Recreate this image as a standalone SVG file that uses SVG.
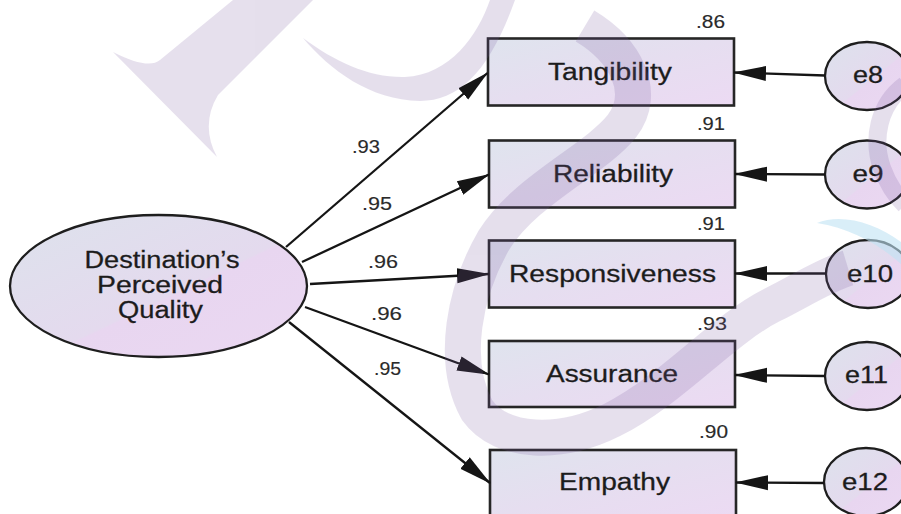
<svg xmlns="http://www.w3.org/2000/svg" width="901" height="514" viewBox="0 0 901 514">
  <defs>
    <linearGradient id="boxFill" x1="0" y1="0" x2="1" y2="1">
      <stop offset="0" stop-color="#dfe4ee"/>
      <stop offset="0.5" stop-color="#e6def0"/>
      <stop offset="1" stop-color="#ecdaf3"/>
    </linearGradient>
    <linearGradient id="ovalFill" x1="0" y1="0" x2="1" y2="1">
      <stop offset="0" stop-color="#dde2ec"/>
      <stop offset="0.55" stop-color="#e4daee"/>
      <stop offset="0.56" stop-color="#e8d6f0"/>
      <stop offset="1" stop-color="#ebd8f2"/>
    </linearGradient>
    <marker id="ah" markerUnits="userSpaceOnUse" markerWidth="34" markerHeight="18" refX="32" refY="9" orient="auto">
      <path d="M0,1.5 L33,9 L0,16.5 Z" fill="#151515"/>
    </marker>
    <style>
      .lbl { font-family: "Liberation Sans", Arial, sans-serif; font-size: 23.5px; fill: #1c1c1c; stroke: #1c1c1c; stroke-width: 0.28; text-anchor: middle; }
      .num { font-family: "Liberation Sans", Arial, sans-serif; font-size: 18px; fill: #2a2a2a; stroke: #2a2a2a; stroke-width: 0.15; }
      .box { fill: url(#boxFill); stroke: #262626; stroke-width: 2.6; }
      .oval { fill: url(#ovalFill); stroke: #1e1e1e; stroke-width: 2.3; }
      .edge { fill: none; stroke: #151515; stroke-width: 2.3; marker-end: url(#ah); }
    </style>
  </defs>

  <rect width="901" height="514" fill="#ffffff"/>

  <!-- latent factor -->
  <g id="factor">
    <ellipse class="oval" cx="158.5" cy="286" rx="148.5" ry="71"/>
    <text class="lbl" x="162" y="268" textLength="155" lengthAdjust="spacingAndGlyphs">Destination’s</text>
    <text class="lbl" x="160" y="293" textLength="126" lengthAdjust="spacingAndGlyphs">Perceived</text>
    <text class="lbl" x="160.5" y="318" textLength="85" lengthAdjust="spacingAndGlyphs">Quality</text>
  </g>

  <!-- observed indicators -->
  <g id="tangibility">
    <rect class="box" x="488" y="38.5" width="246" height="67"/>
    <text class="lbl" x="610" y="80" textLength="124" lengthAdjust="spacingAndGlyphs">Tangibility</text>
    <text class="num" x="725" y="28" text-anchor="end" textLength="29" lengthAdjust="spacingAndGlyphs">.86</text>
  </g>
  <g id="reliability">
    <rect class="box" x="489" y="140.5" width="246" height="67"/>
    <text class="lbl" x="613" y="182" textLength="120" lengthAdjust="spacingAndGlyphs">Reliability</text>
    <text class="num" x="725" y="130" text-anchor="end" textLength="28" lengthAdjust="spacingAndGlyphs">.91</text>
  </g>
  <g id="responsiveness">
    <rect class="box" x="489" y="240.5" width="246" height="67"/>
    <text class="lbl" x="612.5" y="282" textLength="207" lengthAdjust="spacingAndGlyphs">Responsiveness</text>
    <text class="num" x="725" y="230" text-anchor="end" textLength="28" lengthAdjust="spacingAndGlyphs">.91</text>
  </g>
  <g id="assurance">
    <rect class="box" x="489" y="341" width="246" height="66"/>
    <text class="lbl" x="612" y="382" textLength="132" lengthAdjust="spacingAndGlyphs">Assurance</text>
    <text class="num" x="727" y="330" text-anchor="end" textLength="30" lengthAdjust="spacingAndGlyphs">.93</text>
  </g>
  <g id="empathy">
    <rect class="box" x="490" y="450" width="246" height="67"/>
    <text class="lbl" x="614.5" y="490" textLength="111" lengthAdjust="spacingAndGlyphs">Empathy</text>
    <text class="num" x="728" y="438" text-anchor="end" textLength="29" lengthAdjust="spacingAndGlyphs">.90</text>
  </g>

  <!-- error terms -->
  <g id="e8">
    <ellipse class="oval" cx="867" cy="76" rx="42" ry="34"/>
    <text class="lbl" x="868" y="83" textLength="30" lengthAdjust="spacingAndGlyphs">e8</text>
  </g>
  <g id="e9">
    <ellipse class="oval" cx="867" cy="174.5" rx="42" ry="34"/>
    <text class="lbl" x="868" y="182" textLength="31" lengthAdjust="spacingAndGlyphs">e9</text>
  </g>
  <g id="e10">
    <ellipse class="oval" cx="868" cy="274" rx="42" ry="34"/>
    <text class="lbl" x="870" y="282" textLength="46" lengthAdjust="spacingAndGlyphs">e10</text>
  </g>
  <g id="e11">
    <ellipse class="oval" cx="867" cy="376" rx="42" ry="34"/>
    <text class="lbl" x="866.5" y="383" textLength="43" lengthAdjust="spacingAndGlyphs">e11</text>
  </g>
  <g id="e12">
    <ellipse class="oval" cx="866" cy="482" rx="42" ry="34"/>
    <text class="lbl" x="865" y="490" textLength="46" lengthAdjust="spacingAndGlyphs">e12</text>
  </g>

  <!-- regression paths and error paths -->
  <g id="connectors">
    <path class="edge" d="M286,247 L487.5,73"/>
    <path class="edge" d="M302,262 L489,174.5"/>
    <path class="edge" d="M310,284 L489,274"/>
    <path class="edge" d="M305,307 L489,374.5"/>
    <path class="edge" d="M289,322 L490,483"/>
    <path class="edge" d="M825,75.5 L734,72.5"/>
    <path class="edge" d="M825,174.5 L735,174"/>
    <path class="edge" d="M826,273.5 L735,273.5"/>
    <path class="edge" d="M825,376 L735,375"/>
    <path class="edge" d="M824,483 L736,482.5"/>
  </g>

  <!-- standardized loadings -->
  <g id="loadings">
    <text class="num" x="352" y="153" textLength="28" lengthAdjust="spacingAndGlyphs">.93</text>
    <text class="num" x="362" y="210" textLength="30" lengthAdjust="spacingAndGlyphs">.95</text>
    <text class="num" x="368" y="268" textLength="30" lengthAdjust="spacingAndGlyphs">.96</text>
    <text class="num" x="371" y="320" textLength="31" lengthAdjust="spacingAndGlyphs">.96</text>
    <text class="num" x="374" y="375" textLength="27" lengthAdjust="spacingAndGlyphs">.95</text>
  </g>

  <!-- faint background logo -->
  <g id="logo" opacity="0.19">
    <path d="M233,0 L160,60 Q148,70 113,52 L217,157 Q200,125 218,95 L313,0 Z" fill="#785aa0"/>
    <path d="M303,38 C330,70 370,100 420,101 C460,101 490,70 515,0 L490,0 C478,35 450,75 405,77 C370,78 335,62 303,38 Z" fill="#785aa0"/>
    <path d="M585,26 C625,50 648,92 622,126 C595,160 525,190 494,240 C465,290 450,360 477,410 C502,445 562,445 612,420 C672,390 722,330 772,305 C802,290 825,275 848,268" fill="none" stroke="#785aa0" stroke-width="36"/>
    <path d="M905,85 C878,105 872,140 882,168 C887,182 895,195 905,205" fill="none" stroke="#785aa0" stroke-width="18"/>
  </g>
  <path d="M817,223 C840,213 875,222 901,242 L901,264 C880,245 850,228 817,223 Z" fill="#bfe3f3" opacity="0.6"/>
</svg>
